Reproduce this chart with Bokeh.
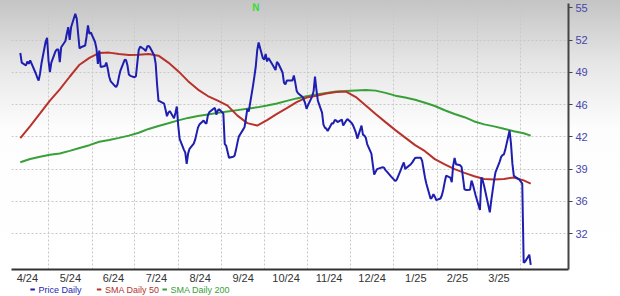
import pandas as pd
from bokeh.plotting import figure
from bokeh.layouts import column
from bokeh.models import FixedTicker, Label, Range1d
from bokeh.core.properties import value
from bokeh.embed import file_html
from bokeh.resources import INLINE

# ---- data ----
price = [
    50.81, 49.84,
    49.54, 49.95, 49.71, 50.05, 49.74,
    48.73, 48.32, 48.01, 48.73, 49.74,
    51.98, 52.36, 50.05, 48.86, 49.84,
    51.01, 51.17, 51.17, 49.88, 51.40,
    52.03, 52.79, 53.43, 52.15, 53.42,
    54.80, 54.32, 52.79, 51.27, 51.40,
    51.57, 52.49, 53.61, 52.76, 52.90,
    51.93, 51.27, 49.71, 51.06, 49.39,
    49.49, 49.84, 49.23, 48.42, 47.96,
    47.47, 47.35, 47.66, 48.42, 49.03,
    50.12, 50.10, 49.54, 48.62, 48.49,
    48.35, 48.45, 49.84, 51.12, 51.47,
    51.17, 51.01, 51.47, 51.54, 51.37,
    50.56, 49.74, 47.61, 45.95, 45.91,
    45.67, 45.06, 44.39, 44.76, 44.91,
    44.19, 44.71, 45.37, 43.44, 42.08,
    41.00, 40.69, 39.54, 40.59, 41.07,
    41.61, 42.01, 42.62, 43.23, 43.54,
    43.95, 43.74, 43.64, 44.45, 44.79,
    45.15, 45.24, 44.56, 44.96, 45.09,
    44.66, 41.56, 41.40, 40.79, 40.18,
    40.28, 40.39, 41.00, 41.71, 42.32,
    43.03, 43.26, 44.15, 45.14, 44.86,
    47.45, 48.42, 49.44, 51.06, 51.88,
    50.30, 50.15, 50.71, 49.95, 50.30,
    49.59, 49.34, 49.08, 49.90, 49.74,
    48.83, 47.81, 47.61, 48.01, 48.01,
    48.01, 48.52, 47.81, 46.96, 46.73,
    46.36, 46.11, 45.72, 45.14, 45.50,
    46.41, 46.92, 48.42, 47.10, 45.98,
    44.76, 43.54, 43.23, 43.13, 42.90,
    43.67, 43.66, 44.00, 43.95, 43.80,
    44.05, 43.44, 43.67, 43.91, 44.10,
    43.70, 43.46, 43.11, 42.73, 42.12,
    43.44, 42.52, 42.42, 42.22, 41.56,
    40.59, 39.47, 38.45, 38.76, 39.01,
    39.17, 39.20, 39.17, 38.91, 38.76,
    38.25, 38.10, 37.95, 37.79, 37.95,
    38.99, 39.37, 39.70, 39.03, 39.17,
    39.52, 39.70, 39.93, 40.14, 40.18,
    40.18, 39.85, 39.00, 38.17, 37.54,
    36.01, 36.14, 36.47, 36.22, 35.86,
    36.03, 36.36, 36.95, 37.70, 38.35,
    38.15, 37.69, 39.37, 40.15, 39.52,
    39.41, 39.22, 38.09, 36.97, 36.90,
    36.93, 37.84, 37.44, 36.87, 36.32,
    34.86, 38.18, 37.84, 37.28, 36.62,
    34.62, 35.81, 36.83, 37.84, 38.69,
    39.78, 40.25, 40.44, 40.52, 41.02,
    42.93, 41.61, 39.57, 38.35, 38.23,
    37.95, 37.74, 37.54, 29.50, 29.61,
    30.32, 29.30,
]

sma50 = [
    42.17, 43.39, 44.68, 45.98, 47.12, 48.40, 49.62, 50.31, 50.82, 50.85,
    50.71, 50.61, 50.63, 50.71, 50.54, 49.84, 48.97, 47.95, 47.10, 46.44,
    45.98, 45.47, 44.45, 43.69, 43.44, 44.00, 44.63, 45.22, 45.83, 46.29,
    46.46, 46.69, 46.86, 46.90, 46.34, 45.47, 44.61, 43.79, 42.98, 42.22,
    41.45, 40.84, 40.03, 39.50, 39.01, 38.63, 38.29, 38.02, 37.95, 38.02,
    38.17, 37.87, 37.54,
]

sma200 = [
    39.71, 40.04, 40.28, 40.47, 40.61, 40.87, 41.17, 41.45, 41.79, 41.98,
    42.19, 42.42, 42.71, 43.10, 43.40, 43.68, 43.97, 44.22, 44.41, 44.57,
    44.73, 44.87, 45.01, 45.15, 45.29, 45.47, 45.68, 45.95, 46.20, 46.42,
    46.59, 46.75, 46.91, 46.94, 47.01, 47.06, 46.99, 46.76, 46.48, 46.29,
    46.06, 45.76, 45.43, 45.00, 44.62, 44.29, 43.86, 43.56, 43.36, 43.11,
    42.87, 42.66, 42.42,
]

x_tick_labels = ["4/24", "5/24", "6/24", "7/24", "8/24", "9/24",
                 "10/24", "11/24", "12/24", "1/25", "2/25", "3/25"]
y_tick_values = [32.45, 35.73, 39.01, 42.29, 45.57, 48.85, 52.13, 55.41]
y_tick_labels = ["32", "36", "39", "42", "46", "49", "52", "55"]
legend_labels = ["Price Daily", "SMA Daily 50", "SMA Daily 200"]
event_date = "2024-09-25"
event_label = "N"

price_dates = pd.bdate_range("2024-04-11", periods=len(price))
sma_dates = pd.date_range("2024-04-11", periods=len(sma50) - 1, freq="7D").append(
    pd.DatetimeIndex(["2025-04-08"]))

BLUE = "#1e1eb0"
RED = "#b8322c"
GREEN = "#38a038"
FONT = "Liberation Sans"


def ms(ts):
    return int(pd.Timestamp(ts).value // 10**6)


months = pd.date_range("2024-04-01", periods=len(x_tick_labels) + 1, freq="MS")
mid_ticks = [ms(months[i] + (months[i + 1] - months[i]) / 2) for i in range(len(x_tick_labels))]
grid_ticks = [ms(m) for m in months[1:]]

p = figure(width=620, height=287, x_axis_type="datetime", y_axis_location="right",
           x_range=Range1d(ms("2024-04-04 18:00"), ms("2025-05-04 19:00")),
           y_range=Range1d(28.82, 55.84),
           output_backend="svg", toolbar_location=None,
           min_border_left=11, min_border_right=52, min_border_top=3, min_border_bottom=18)

p.border_fill_color = None
p.background_fill_color = None
p.outline_line_color = None
p.styles = {"background": "linear-gradient(to bottom, #c4c4c4 0%, #e6e6e6 22%, #fdfdfd 45%, #ffffff 100%)"}

# grids
p.xgrid.ticker = FixedTicker(ticks=grid_ticks)
p.ygrid.ticker = FixedTicker(ticks=y_tick_values)
for g in (p.xgrid, p.ygrid):
    g.grid_line_color = "#c8c8c8"
    g.grid_line_dash = "2 2"
    g.grid_line_width = 1

# x axis
xa = p.xaxis[0]
xa.ticker = FixedTicker(ticks=mid_ticks)
xa.major_label_overrides = {t: lab for t, lab in zip(mid_ticks, x_tick_labels)}
xa.axis_line_color = "#333333"
xa.axis_line_width = 2
xa.major_tick_line_color = None
xa.major_tick_out = 0
xa.major_tick_in = 0
xa.minor_tick_line_color = None
xa.minor_tick_out = 0
xa.major_label_text_color = "#333333"
xa.major_label_text_font = FONT
xa.major_label_text_font_size = "11px"
xa.major_label_standoff = 2

# y axis
ya = p.yaxis[0]
ya.ticker = FixedTicker(ticks=y_tick_values)
ya.major_label_overrides = {t: lab for t, lab in zip(y_tick_values, y_tick_labels)}
ya.axis_line_color = "#444444"
ya.axis_line_width = 2
ya.major_tick_line_color = "#444444"
ya.major_tick_out = 4
ya.major_tick_in = 0
ya.minor_tick_line_color = None
ya.major_label_text_color = "#4646aa"
ya.major_label_text_font = FONT
ya.major_label_text_font_size = "11px"
ya.major_label_standoff = 3

# series
p.line(sma_dates, sma200, color=GREEN, line_width=2)
p.line(sma_dates, sma50, color=RED, line_width=2)
p.line(price_dates, price, color=BLUE, line_width=2)

# event marker
p.add_layout(Label(x=ms(event_date), y=262, x_units="data", y_units="screen",
                   text=event_label, text_color="#33dd33", text_font=FONT,
                   text_font_size="10px", text_font_style="bold",
                   text_align="center", text_baseline="middle"))

# legend strip below the chart (overlaps the chart's bottom border slightly)
leg = figure(width=620, height=14, x_range=Range1d(0, 620), y_range=Range1d(0, 14),
             output_backend="svg", toolbar_location=None, min_border=0)
leg.axis.visible = False
leg.grid.visible = False
leg.outline_line_color = None
leg.border_fill_color = None
leg.background_fill_color = None
leg.margin = (-5, 0, 0, 0)

leg_colors = [BLUE, RED, GREEN]
dash_x0 = [21, 95, 168]
leg.segment(x0=dash_x0, y0=[7] * 3, x1=[x + 5 for x in dash_x0], y1=[7] * 3,
            color=leg_colors, line_width=2)
leg.text(x=[x + 9 for x in dash_x0], y=[7] * 3, text=legend_labels,
         text_color=leg_colors, text_font=value(FONT), text_font_size=value("9px"),
         text_baseline="middle")

open("out.html", "w").write(file_html(column(p, leg, spacing=0), INLINE))
